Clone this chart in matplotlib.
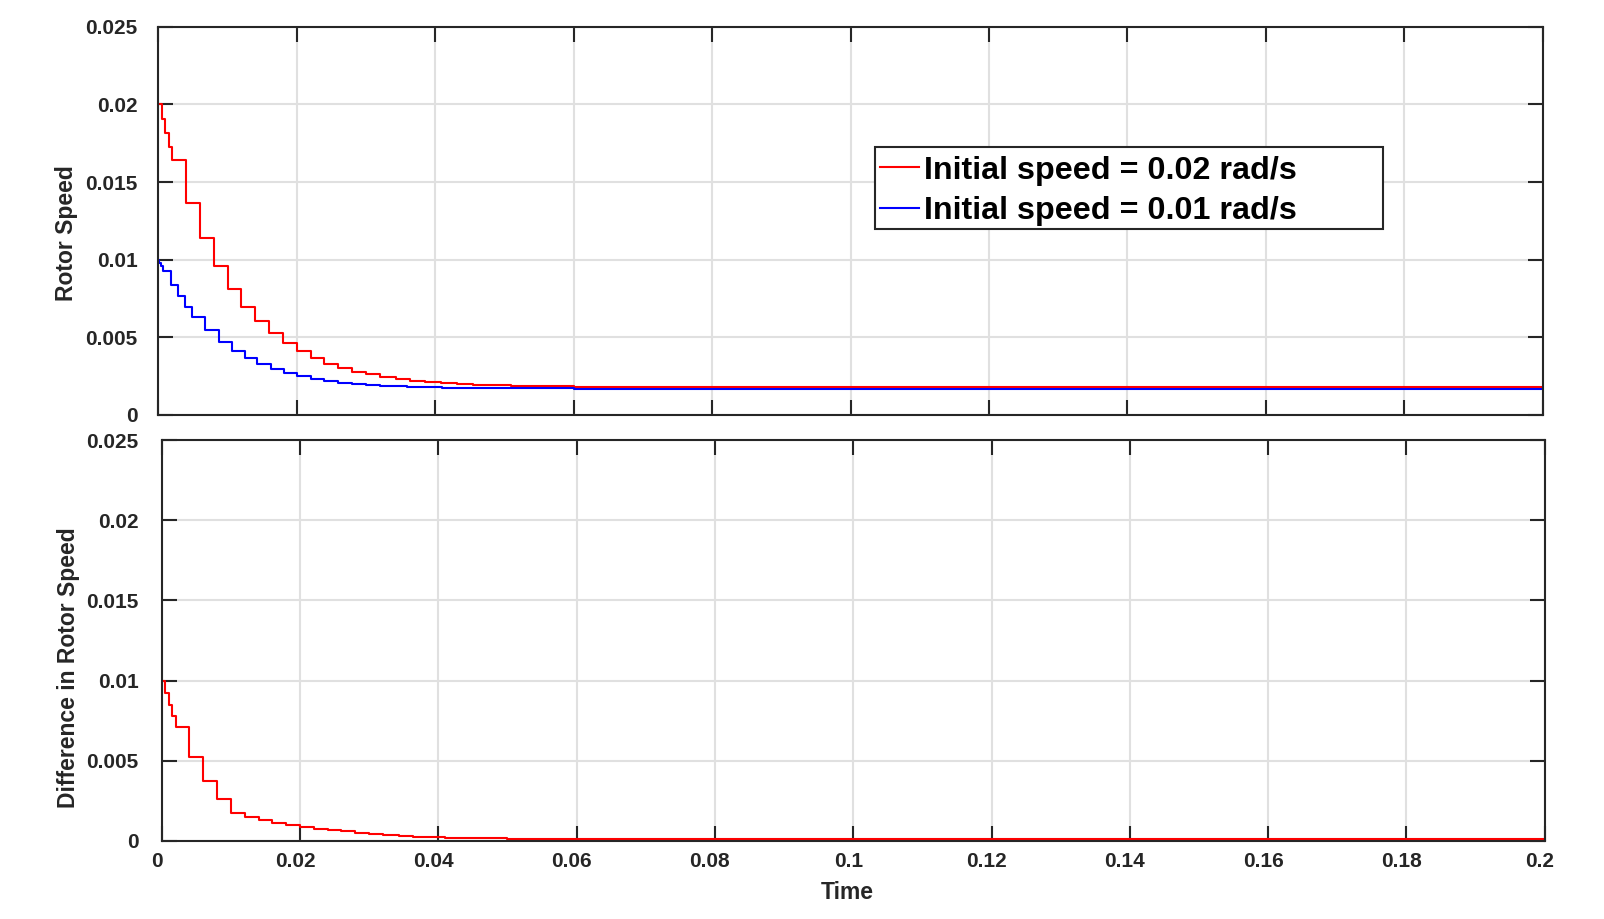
import matplotlib
matplotlib.use("Agg")
import matplotlib.pyplot as plt
import matplotlib.transforms as mtransforms
from matplotlib.patches import Rectangle

plt.rcParams['font.family'] = ['Liberation Sans', 'DejaVu Sans']
plt.rcParams['font.weight'] = 'bold'

# ---------------- data ----------------
t_red = [0, 0.0005, 0.001, 0.0015, 0.002, 0.004, 0.006, 0.008, 0.010, 0.012,
         0.014, 0.016, 0.018, 0.020, 0.022, 0.024, 0.026, 0.028, 0.030, 0.032,
         0.0343, 0.0364, 0.0386, 0.0409, 0.0431, 0.0454, 0.048, 0.051, 0.054,
         0.057, 0.060, 0.2]
v_red = [0.02, 0.01903, 0.01813, 0.01725, 0.01641, 0.01363, 0.0114, 0.00959,
         0.00811, 0.00697, 0.00604, 0.00525, 0.00462, 0.00411, 0.00366, 0.00330,
         0.00302, 0.00278, 0.00261, 0.00246, 0.00232, 0.00221, 0.00214, 0.00206,
         0.00200, 0.00194, 0.00190, 0.00188, 0.00186, 0.00185, 0.00183, 0.00183]

t_blue = [0, 0.0001, 0.0004, 0.0007, 0.0018, 0.0028, 0.0038, 0.0049, 0.0068,
          0.0087, 0.0106, 0.0125, 0.0143, 0.0163, 0.0181, 0.020, 0.022, 0.024,
          0.026, 0.028, 0.030, 0.032, 0.034, 0.036, 0.0386, 0.041, 0.043, 0.046,
          0.050, 0.055, 0.060, 0.2]
v_blue = [0.01, 0.00979, 0.00957, 0.00925, 0.00839, 0.00763, 0.00695, 0.00634,
          0.00548, 0.00473, 0.00413, 0.00366, 0.00327, 0.00295, 0.00269, 0.00252,
          0.00234, 0.00219, 0.00208, 0.00200, 0.00194, 0.00189, 0.00185, 0.00181,
          0.00178, 0.00176, 0.00174, 0.00173, 0.00172, 0.00171, 0.00170, 0.00170]

t_diff = [0, 0.0005, 0.001, 0.0015, 0.002, 0.004, 0.006, 0.008, 0.010, 0.012,
          0.014, 0.016, 0.018, 0.020, 0.022, 0.024, 0.026, 0.028, 0.030, 0.032,
          0.0343, 0.0364, 0.0386, 0.041, 0.0454, 0.050, 0.055, 0.060, 0.2]
v_diff = [0.01, 0.00925, 0.00848, 0.0078, 0.00713, 0.00523, 0.00375, 0.00259,
          0.00174, 0.00149, 0.00128, 0.00112, 0.00097, 0.00085, 0.00077, 0.00068,
          0.0006, 0.00052, 0.00045, 0.0004, 0.00031, 0.00026, 0.00022, 0.0002,
          0.00017, 0.00015, 0.00014, 0.00013, 0.00012]

x_ticks = [0, 0.02, 0.04, 0.06, 0.08, 0.1, 0.12, 0.14, 0.16, 0.18, 0.2]
x_ticklabels = ['0', '0.02', '0.04', '0.06', '0.08', '0.1', '0.12', '0.14', '0.16', '0.18', '0.2']
y_ticks = [0, 0.005, 0.01, 0.015, 0.02, 0.025]
y_ticklabels = ['0', '0.005', '0.01', '0.015', '0.02', '0.025']
legend_labels = ['Initial speed = 0.02 rad/s', 'Initial speed = 0.01 rad/s']

# ---------------- figure ----------------
W, H = 1604, 919
fig = plt.figure(figsize=(W / 100, H / 100), dpi=100)

def px_axes(l, t, r, b):
    return fig.add_axes([l / W, 1 - b / H, (r - l) / W, (b - t) / H])

ax1 = px_axes(158.3, 26.7, 1542.7, 415)
ax2 = px_axes(161.7, 440, 1544.7, 841)

dark = '#262626'
grid_c = '#e0e0e0'

for ax, pad in ((ax1, 15.0), (ax2, 16.5)):
    ax.set_xlim(0, 0.2)
    ax.set_ylim(0, 0.025)
    ax.set_xticks(x_ticks)
    ax.set_yticks(y_ticks)
    ax.set_yticklabels(y_ticklabels)
    ax.grid(True, color=grid_c, linewidth=1.5)
    ax.set_axisbelow(True)
    for s in ax.spines.values():
        s.set_color(dark)
        s.set_linewidth(1.5)
    ax.tick_params(axis='both', which='both', direction='in', length=10.5,
                   width=1.5, color=dark, labelcolor=dark, labelsize=15,
                   top=True, right=True)
    ax.tick_params(axis='y', pad=pad)
    ax.tick_params(axis='x', pad=8)

ax1.set_xticklabels([])
ax2.set_xticklabels(x_ticklabels)
for lab in ax2.get_xticklabels():
    lab.set_fontweight('bold')
    lab.set_transform(lab.get_transform() +
                      mtransforms.ScaledTranslation(-0.05, 0, fig.dpi_scale_trans))
for ax in (ax1, ax2):
    for lab in ax.get_yticklabels():
        lab.set_fontweight('bold')

l_red, = ax1.step(t_red, v_red, where='post', color='#ff0000', linewidth=1.5)
l_blue, = ax1.step(t_blue, v_blue, where='post', color='#0000ff', linewidth=1.5)
ax2.step(t_diff, v_diff, where='post', color='#ff0000', linewidth=1.5)

ax1.set_ylabel('Rotor Speed', fontsize=16.5, fontweight='bold', color=dark, va='center')
ax1.yaxis.set_label_coords(-0.0662, 0.4695)
ax2.set_ylabel('Difference in Rotor Speed', fontsize=16.5, fontweight='bold', color=dark, va='center')
ax2.yaxis.set_label_coords(-0.0674, 0.4327)
ax2.set_xlabel('Time', fontsize=16.5, fontweight='bold', color=dark, va='baseline')
ax2.xaxis.set_label_coords(0.496, -0.1454)

# legend
leg = fig.legend([l_red, l_blue], legend_labels, loc='upper left',
                 bbox_to_anchor=(880 / W, 1 - 155.5 / H), frameon=False,
                 prop={'family': 'Liberation Sans', 'weight': 'bold', 'size': 23.2},
                 handlelength=1.2, handletextpad=0.15, labelspacing=0.33,
                 borderpad=0, borderaxespad=0)
for line in leg.get_lines():
    line.set_linewidth(1.5)
box = (875.3 / W, 1 - 229.3 / H), (1383 - 875.3) / W, (229.3 - 146.7) / H
fig.patches.append(Rectangle(*box, transform=fig.transFigure,
                             facecolor='white', edgecolor='none', zorder=4))
fig.patches.append(Rectangle(*box, transform=fig.transFigure,
                             facecolor='none', edgecolor=dark, linewidth=1.5,
                             zorder=5))

fig.savefig('out.png', dpi=100)
